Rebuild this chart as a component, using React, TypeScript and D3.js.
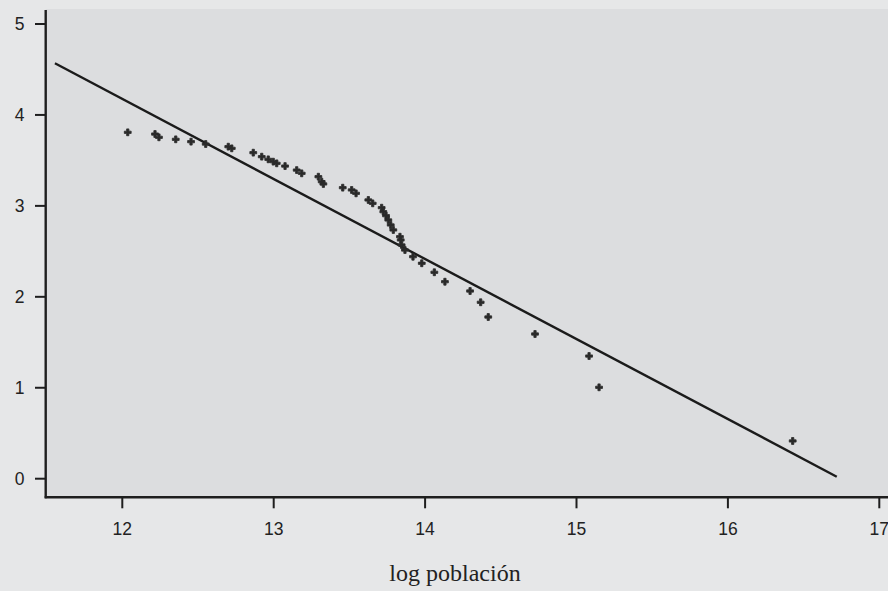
import React from "react";
import * as d3 from "d3";

// log población vs log rango
const logPop = [
  12.036, 12.216, 12.242, 12.353, 12.454, 12.551, 12.7, 12.723, 12.865, 12.921,
  12.964, 12.997, 13.02, 13.075, 13.152, 13.185, 13.295, 13.317, 13.328, 13.456,
  13.515, 13.544, 13.625, 13.654, 13.713, 13.724, 13.742, 13.757, 13.773, 13.79,
  13.834, 13.839, 13.845, 13.867, 13.92, 13.978, 14.061, 14.131, 14.297, 14.367,
  14.417, 14.726, 15.083, 15.149, 16.428,
];
const logRank = [
  3.809, 3.79, 3.754, 3.732, 3.706, 3.68, 3.651, 3.633, 3.585, 3.541,
  3.512, 3.486, 3.468, 3.438, 3.394, 3.358, 3.321, 3.266, 3.241, 3.2,
  3.175, 3.138, 3.065, 3.028, 2.98, 2.936, 2.892, 2.845, 2.79, 2.735,
  2.661, 2.625, 2.57, 2.515, 2.441, 2.369, 2.27, 2.166, 2.064, 1.94,
  1.778, 1.591, 1.349, 1.005, 0.415,
];
// recta ajustada (extremos)
const fitX = [11.555, 16.719];
const fitY = [4.568, 0.022];

const xTicks = [12, 13, 14, 15, 16, 17];
const yTicks = [0, 1, 2, 3, 4, 5];
const xTitle = "log población";

const W = 888;
const H = 591;

export default function App() {
  const x = d3.scaleLinear().domain([12, 17]).range([122.3, 879.3]);
  const y = d3.scaleLinear().domain([0, 5]).range([478.7, 24]);

  const axisX = 45.7;
  const axisY = 497.3;
  const top = 9;

  const line = d3
    .line<number>()
    .x((d) => x(d))
    .y((_, i) => y(fitY[i]));

  const sym = d3.symbol().type(d3.symbolCross).size(26)();

  const font = "'Liberation Sans', Arial, Helvetica, sans-serif";

  return (
    <svg
      width={W}
      height={H}
      style={{ position: "absolute", left: 0, top: 0, display: "block" }}
    >
      <rect x={0} y={0} width={W} height={H} fill="#e6e7e8" />
      <rect x={axisX} y={top} width={W - axisX} height={axisY - top} fill="#dcdddf" />

      {/* recta */}
      <path d={line(fitX) || ""} fill="none" stroke="#1b1b1b" strokeWidth={2.4} />

      {/* puntos */}
      {logPop.map((v, i) => (
        <path
          key={i}
          d={sym || ""}
          transform={`translate(${x(v)},${y(logRank[i])})`}
          fill="#2a2a2a"
          stroke="#2a2a2a"
          strokeWidth={1}
          strokeOpacity={0.8}
        />
      ))}

      {/* ejes */}
      <line x1={axisX} x2={axisX} y1={top + 1} y2={axisY + 1} stroke="#1e1e1e" strokeWidth={2.4} />
      <line x1={axisX - 1} x2={W} y1={axisY} y2={axisY} stroke="#1e1e1e" strokeWidth={2.4} />

      {yTicks.map((t) => (
        <g key={t}>
          <line x1={35} x2={axisX} y1={y(t)} y2={y(t)} stroke="#1e1e1e" strokeWidth={2} />
          <text
            x={24.5}
            y={y(t)}
            dy="0.36em"
            textAnchor="end"
            fontFamily={font}
            fontSize={17.5}
            fill="#222"
          >
            {t}
          </text>
        </g>
      ))}

      {xTicks.map((t) => (
        <g key={t}>
          <line x1={x(t)} x2={x(t)} y1={axisY} y2={axisY + 11} stroke="#1e1e1e" strokeWidth={2} />
          <text
            x={x(t)}
            y={535}
            textAnchor="middle"
            fontFamily={font}
            fontSize={17.5}
            fill="#222"
          >
            {t}
          </text>
        </g>
      ))}

      <text
        x={455}
        y={581}
        textAnchor="middle"
        fontFamily="'Liberation Serif', 'DejaVu Serif', serif"
        fontSize={24}
        fill="#222"
      >
        {xTitle}
      </text>
    </svg>
  );
}
